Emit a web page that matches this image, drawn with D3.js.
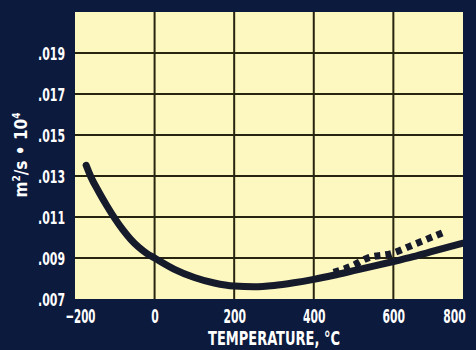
<!DOCTYPE html>
<html>
<head>
<meta charset="utf-8">
<script src="https://cdn.jsdelivr.net/npm/d3@7"></script>
<style>
  html, body { margin: 0; padding: 0; background: #0c1a3d; }
  svg { display: block; }
  .lbl { font-family: "Liberation Sans Narrow", "DejaVu Sans Condensed", "Roboto Condensed", sans-serif; font-weight: bold; fill: #ffffff; }
</style>
</head>
<body>
<svg id="chart" width="476" height="350"></svg>
<script>
// Kinematic viscosity vs. temperature (m²/s · 10⁴)
const xTicks = [-200, 0, 200, 400, 600, 800];
const xTickLabels = ["\u2212200", "0", "200", "400", "600", "800"];
const yTicks = [0.007, 0.009, 0.011, 0.013, 0.015, 0.017, 0.019];
const yTickLabels = [".007", ".009", ".011", ".013", ".015", ".017", ".019"];

// Solid curve
const solidTemp = [-172, -160, -140, -120, -100, -80, -60, -40, -20, 0, 50, 100, 150, 200, 250, 300, 350, 400, 450, 500, 550, 600, 650, 700, 775];
const solidVal  = [0.01352, 0.01295, 0.01222, 0.01155, 0.01093, 0.01038, 0.00991, 0.00953, 0.00923, 0.00900, 0.00845, 0.00805, 0.00778, 0.00763, 0.00760, 0.00766, 0.00779, 0.00796, 0.00816, 0.00838, 0.00860, 0.00883, 0.00907, 0.00933, 0.00972];

// Dotted branch at high temperature
const dotTemp = [450, 500, 533, 595, 658, 730];
const dotVal  = [0.00830, 0.00865, 0.00898, 0.00922, 0.00971, 0.01028];

const svg = d3.select("#chart");
const plot = { left: 75, right: 463, top: 12, bottom: 299 };

const x = d3.scaleLinear().domain([-200, 775]).range([plot.left, plot.right]);
const y = d3.scaleLinear().domain([0.007, 0.021]).range([plot.bottom, plot.top]);

svg.append("rect").attr("width", 476).attr("height", 350).attr("fill", "#0c1a3d");

svg.append("defs").append("clipPath").attr("id", "clip")
  .append("rect")
  .attr("x", plot.left).attr("y", plot.top)
  .attr("width", plot.right - plot.left).attr("height", plot.bottom - plot.top);

svg.append("rect")
  .attr("x", plot.left).attr("y", plot.top)
  .attr("width", plot.right - plot.left).attr("height", plot.bottom - plot.top)
  .attr("fill", "#fdf7c0");

// Grid
const grid = svg.append("g").attr("clip-path", "url(#clip)")
  .attr("stroke", "#27240f").attr("stroke-width", 2);
grid.selectAll("line.v").data(xTicks.filter(t => t > -200 && t < 775)).join("line")
  .attr("class", "v")
  .attr("x1", d => x(d)).attr("x2", d => x(d))
  .attr("y1", plot.top).attr("y2", plot.bottom);
grid.selectAll("line.h").data(yTicks.filter(t => t > 0.007)).join("line")
  .attr("class", "h")
  .attr("x1", plot.left).attr("x2", plot.right)
  .attr("y1", d => y(d)).attr("y2", d => y(d));

// Curves
const line = d3.line().x(d => x(d[0])).y(d => y(d[1])).curve(d3.curveMonotoneX);
const curves = svg.append("g").attr("clip-path", "url(#clip)");

curves.append("path")
  .datum(dotTemp.map((t, i) => [t, dotVal[i]]))
  .attr("d", line)
  .attr("fill", "none")
  .attr("stroke", "#151b2b")
  .attr("stroke-width", 7)
  .attr("stroke-dasharray", "6,5");

curves.append("path")
  .datum(solidTemp.map((t, i) => [t, solidVal[i]]))
  .attr("d", line)
  .attr("fill", "none")
  .attr("stroke", "#151b2b")
  .attr("stroke-width", 7)
  .attr("stroke-linecap", "round");

// Axes (labels only); the outermost labels are nudged inward to stay on the canvas
const xAxis = svg.append("g")
  .attr("transform", `translate(0,${plot.bottom})`)
  .call(d3.axisBottom(x).tickValues(xTicks).tickSize(0).tickPadding(0)
    .tickFormat((d, i) => xTickLabels[i]));
xAxis.select(".domain").remove();
xAxis.selectAll("text")
  .attr("class", "lbl")
  .attr("font-size", 20)
  .attr("y", 24)
  .attr("dy", null)
  .attr("x", d => d === -200 ? 5 : d === 800 ? -19 : 0)
  .attr("textLength", (d, i) => xTickLabels[i].length * 7.5)
  .attr("lengthAdjust", "spacingAndGlyphs");

const yAxis = svg.append("g")
  .attr("transform", `translate(${plot.left},0)`)
  .call(d3.axisLeft(y).tickValues(yTicks).tickSize(0).tickPadding(10)
    .tickFormat((d, i) => yTickLabels[i]));
yAxis.select(".domain").remove();
yAxis.selectAll("text")
  .attr("class", "lbl")
  .attr("font-size", 18)
  .attr("dy", "0.36em")
  .attr("textLength", 27)
  .attr("lengthAdjust", "spacingAndGlyphs");

// Axis titles
svg.append("text")
  .attr("class", "lbl")
  .attr("x", 274).attr("y", 345)
  .attr("text-anchor", "middle")
  .attr("font-size", 19)
  .attr("textLength", 132)
  .attr("lengthAdjust", "spacingAndGlyphs")
  .text("TEMPERATURE,  \u00B0C");

const yt = svg.append("text")
  .attr("class", "lbl")
  .attr("transform", "translate(27,155) rotate(-90)")
  .attr("text-anchor", "middle")
  .attr("font-size", 17);
yt.append("tspan").text("m");
yt.append("tspan").attr("font-size", 10).attr("dy", -7).text("2");
yt.append("tspan").attr("dy", 7).text("/s \u2022 10");
yt.append("tspan").attr("font-size", 10).attr("dy", -7).text("4");
</script>
</body>
</html>
